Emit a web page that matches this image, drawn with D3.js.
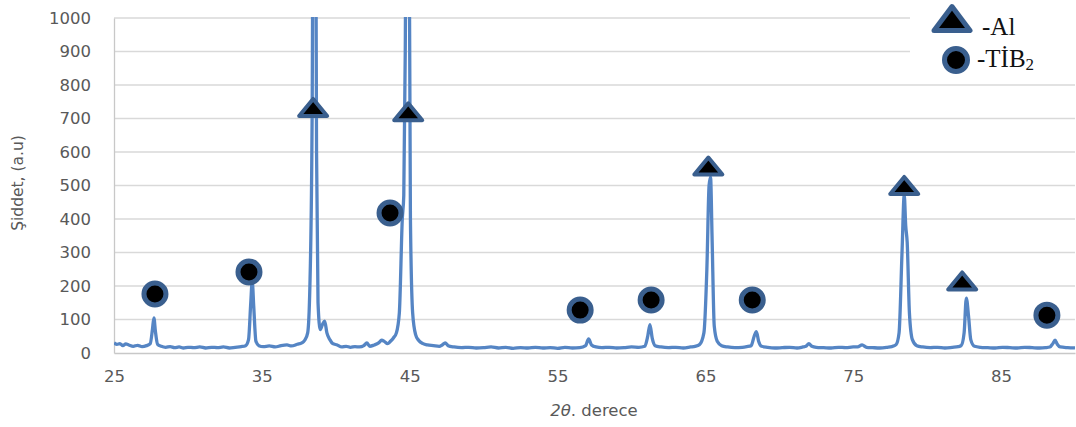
<!DOCTYPE html>
<html>
<head>
<meta charset="utf-8">
<script src="https://cdn.jsdelivr.net/npm/d3@7"></script>
<style>
  body { margin: 0; background: #fff; }
  svg { display: block; }
</style>
</head>
<body>
<script>
// diffraction pattern (2theta, intensity)
const twoTheta = [25.0, 25.2, 25.4, 25.6, 25.8, 26.0, 26.3, 26.6, 26.9, 27.2, 27.45, 27.6, 27.7, 27.8, 27.95,
  28.2, 28.5, 28.8, 29.1, 29.4, 29.7, 30.0, 30.4, 30.8, 31.2, 31.6, 32.0, 32.4, 32.8, 33.2, 33.6, 33.9,
  34.1, 34.25, 34.35, 34.45, 34.6, 34.8, 35.1, 35.5, 35.9, 36.3, 36.7, 37.0, 37.4, 37.7, 37.9, 38.1,
  38.25, 38.4, 38.55, 38.7, 38.8, 38.95, 39.1, 39.25, 39.4, 39.6, 39.8, 40.1, 40.4, 40.7, 41.0, 41.3,
  41.6, 41.9, 42.1, 42.3, 42.6, 42.9, 43.1, 43.3, 43.5, 43.7, 43.9, 44.1, 44.3, 44.5, 44.6, 44.7,
  44.85, 44.95, 45.05, 45.2, 45.4, 45.6, 45.9, 46.2, 46.6, 47.0, 47.2, 47.4, 47.6, 48.0, 48.5, 49.0,
  49.5, 50.0, 50.5, 51.0, 51.5, 52.0, 52.5, 53.0, 53.5, 54.0, 54.5, 55.0, 55.5, 56.0, 56.5, 56.9,
  57.1, 57.3, 57.6, 58.0, 58.5, 59.0, 59.5, 60.0, 60.5, 60.9, 61.1, 61.25, 61.4, 61.6, 62.0, 62.5,
  63.0, 63.5, 64.0, 64.3, 64.6, 64.9, 65.1, 65.25, 65.35, 65.45, 65.6, 65.8, 66.1, 66.5, 67.0, 67.5,
  67.8, 68.1, 68.3, 68.45, 68.6, 68.8, 69.2, 69.7, 70.2, 70.7, 71.2, 71.6, 71.8, 72.0, 72.2, 72.5,
  73.0, 73.5, 74.0, 74.5, 75.0, 75.3, 75.6, 75.9, 76.3, 76.8, 77.3, 77.6, 77.9, 78.1, 78.3, 78.45,
  78.55, 78.65, 78.8, 79.0, 79.3, 79.7, 80.2, 80.7, 81.2, 81.7, 82.1, 82.3, 82.5, 82.65, 82.8, 82.95,
  83.2, 83.6, 84.1, 84.6, 85.1, 85.6, 86.1, 86.6, 87.1, 87.6, 88.0, 88.3, 88.5, 88.65, 88.8, 89.0,
  89.5, 90.0];
const intensity = [30, 26, 28, 22, 27, 24, 20, 23, 19, 22, 28, 70, 105, 65, 26,
  20, 17, 19, 16, 18, 15, 17, 16, 18, 15, 17, 16, 18, 15, 17, 19, 22,
  40, 150, 215, 140, 35, 22, 19, 21, 18, 22, 24, 21, 26, 30, 38, 60,
  200, 700, 2500, 600, 150, 70, 85, 95, 60, 40, 28, 24, 18, 20, 17, 19,
  18, 22, 30, 20, 24, 30, 38, 34, 28, 35, 45, 60, 120, 400, 470, 900,
  2400, 1500, 400, 120, 55, 38, 28, 24, 22, 20, 24, 30, 22, 18, 16, 17,
  15, 16, 18, 15, 17, 14, 16, 15, 17, 15, 16, 14, 17, 15, 16, 22,
  42, 24, 18, 16, 17, 15, 16, 18, 17, 20, 50, 85, 45, 22, 18, 16,
  17, 15, 18, 20, 25, 60, 250, 500, 525, 350, 80, 35, 22, 18, 16, 17,
  19, 22, 50, 64, 35, 20, 17, 15, 16, 17, 15, 18, 20, 28, 20, 17,
  16, 15, 17, 16, 18, 18, 24, 17, 16, 15, 17, 19, 25, 60, 300, 472,
  380, 330, 120, 40, 22, 18, 16, 17, 15, 17, 19, 22, 60, 164, 110, 40,
  20, 17, 16, 15, 17, 16, 15, 17, 16, 15, 16, 18, 28, 38, 26, 18,
  16, 15];

// Al and TiB2 peak markers
const alAngles = [38.47, 44.9, 65.2, 78.45, 82.37];
const alHeights = [728, 715, 553, 495, 210];
const tibAngles = [27.77, 34.13, 43.67, 56.53, 61.33, 68.17, 88.1];
const tibHeights = [176, 242, 418, 128, 158, 158, 113];

const yTicks = [0, 100, 200, 300, 400, 500, 600, 700, 800, 900, 1000];
const xTicks = [25, 35, 45, 55, 65, 75, 85];

const W = 1076, H = 427;
const mLeft = 114, mRight = 1075, mTop = 18, mBottom = 353;
const lineColor = "#5585c4";
const markColor = "#3a5f8e";

const svg = d3.select("body").append("svg")
  .attr("width", W)
  .attr("height", H);

const x = d3.scaleLinear().domain([25, 90]).range([mLeft, mRight]);
const y = d3.scaleLinear().domain([0, 1000]).range([mBottom, mTop]);

// gridlines
svg.append("g")
  .selectAll("line")
  .data(yTicks.slice(1))
  .join("line")
    .attr("x1", mLeft)
    .attr("x2", mRight)
    .attr("y1", d => y(d))
    .attr("y2", d => y(d))
    .attr("stroke", "#d9d9d9")
    .attr("stroke-width", 1.3);

// y axis labels
const yAxis = d3.axisLeft(y).tickValues(yTicks).tickFormat(d3.format("d"))
  .tickSize(0).tickPadding(23);
svg.append("g")
  .attr("transform", `translate(${mLeft},0)`)
  .call(yAxis)
  .call(g => g.select(".domain").attr("stroke", "#c8c8c8").attr("stroke-width", 1.3))
  .call(g => g.selectAll("text")
    .attr("fill", "#595959")
    .style("font-family", "DejaVu Sans")
    .style("font-size", "16.5px"));

// x axis labels
const xAxis = d3.axisBottom(x).tickValues(xTicks).tickSize(0).tickPadding(17);
svg.append("g")
  .attr("transform", `translate(0,${mBottom})`)
  .call(xAxis)
  .call(g => g.select(".domain").attr("stroke", "#c8c8c8").attr("stroke-width", 1.3))
  .call(g => g.selectAll("text")
    .attr("fill", "#595959")
    .style("font-family", "DejaVu Sans")
    .style("font-size", "16.5px"));

// clip the off-scale peaks at the top of the plot
svg.append("clipPath").attr("id", "plotClip")
  .append("rect")
  .attr("x", mLeft).attr("y", mTop - 1)
  .attr("width", mRight - mLeft + 1).attr("height", mBottom - mTop + 2);

const line = d3.line()
  .x((d, i) => x(twoTheta[i]))
  .y(d => y(d))
  .curve(d3.curveMonotoneX);

svg.append("path")
  .datum(intensity)
  .attr("clip-path", "url(#plotClip)")
  .attr("fill", "none")
  .attr("stroke", lineColor)
  .attr("stroke-width", 3.3)
  .attr("stroke-linejoin", "round")
  .attr("d", line);

// triangle path around a centre point
function tri(cx, cy, w, h) {
  return `M${cx},${cy - h * 0.6} L${cx + w / 2},${cy + h * 0.4} L${cx - w / 2},${cy + h * 0.4} Z`;
}

svg.append("g")
  .selectAll("path")
  .data(alAngles)
  .join("path")
    .attr("d", (d, i) => tri(x(d), y(alHeights[i]), 28, 17))
    .attr("fill", "#000")
    .attr("stroke", markColor)
    .attr("stroke-width", 4)
    .attr("stroke-linejoin", "round");

svg.append("g")
  .selectAll("circle")
  .data(tibAngles)
  .join("circle")
    .attr("cx", d => x(d))
    .attr("cy", (d, i) => y(tibHeights[i]))
    .attr("r", 11)
    .attr("fill", "#000")
    .attr("stroke", markColor)
    .attr("stroke-width", 5);

// legend box
svg.append("rect")
  .attr("x", 910).attr("y", 0)
  .attr("width", 166).attr("height", 80)
  .attr("fill", "#fff");

svg.append("path")
  .attr("d", tri(952, 21, 36, 24))
  .attr("fill", "#000")
  .attr("stroke", markColor)
  .attr("stroke-width", 5)
  .attr("stroke-linejoin", "round");

svg.append("circle")
  .attr("cx", 956).attr("cy", 60)
  .attr("r", 11.5)
  .attr("fill", "#000")
  .attr("stroke", markColor)
  .attr("stroke-width", 5);

svg.append("text")
  .attr("x", 982).attr("y", 35)
  .style("font-family", "Liberation Serif")
  .style("font-size", "25px")
  .attr("fill", "#111")
  .text("-Al");

const tib = svg.append("text")
  .attr("x", 977).attr("y", 67)
  .style("font-family", "Liberation Serif")
  .style("font-size", "25px")
  .attr("fill", "#111");
tib.append("tspan").text("-TİB");
tib.append("tspan").attr("font-size", "17px").attr("dy", 3).text("2");

// axis titles
svg.append("text")
  .attr("transform", "translate(23,183) rotate(-90)")
  .attr("text-anchor", "middle")
  .style("font-family", "DejaVu Sans")
  .style("font-size", "15.5px")
  .attr("fill", "#595959")
  .text("Şiddet, (a.u)");

const xt = svg.append("text")
  .attr("x", 594).attr("y", 416)
  .attr("text-anchor", "middle")
  .style("font-family", "DejaVu Sans")
  .style("font-size", "16.5px")
  .attr("fill", "#595959");
xt.append("tspan").style("font-style", "italic").text("2θ");
xt.append("tspan").text(". derece");
</script>
</body>
</html>
